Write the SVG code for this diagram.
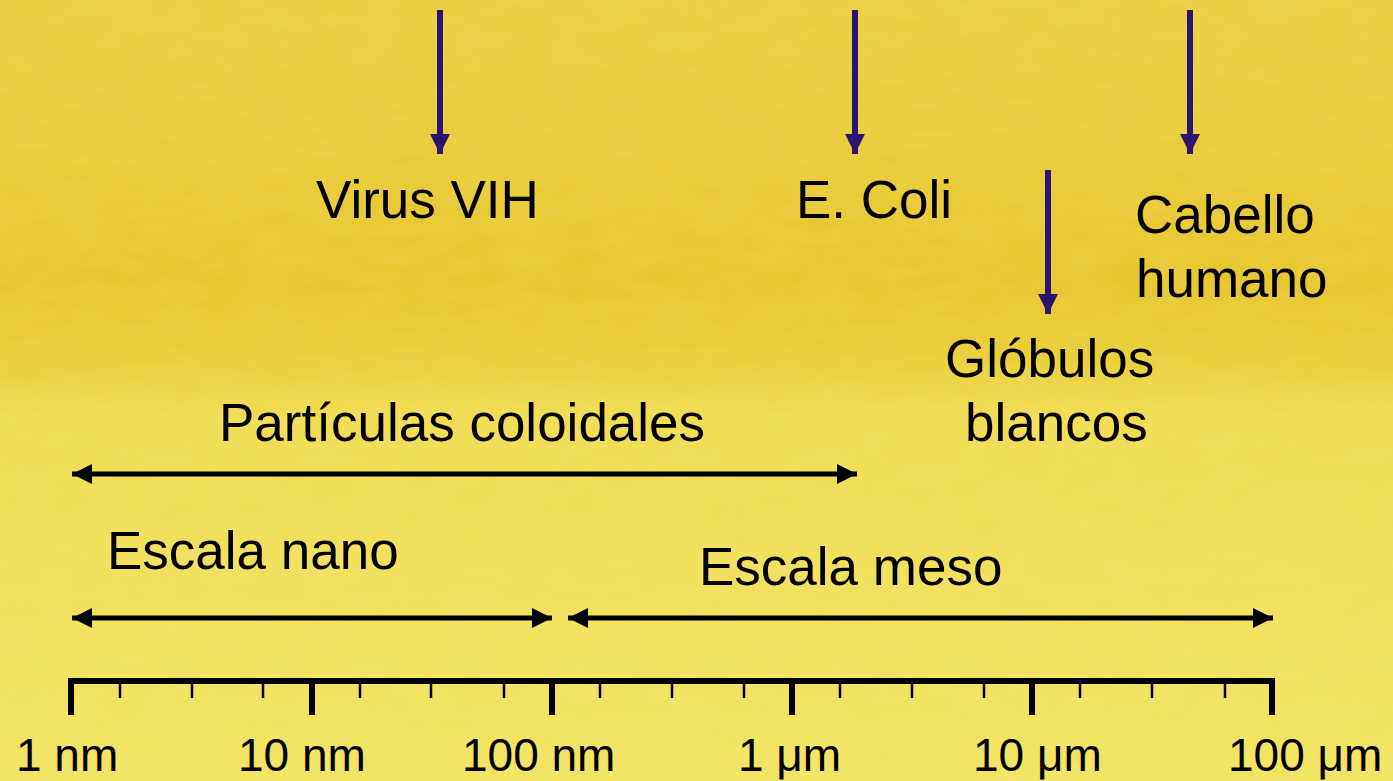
<svg xmlns="http://www.w3.org/2000/svg" width="1393" height="781" viewBox="0 0 1393 781">
<defs>
<linearGradient id="bg" x1="0" y1="0" x2="0" y2="1">
<stop offset="0" stop-color="#EBCF40"/>
<stop offset="0.2" stop-color="#E9CB38"/>
<stop offset="0.36" stop-color="#E6C52C"/>
<stop offset="0.45" stop-color="#E9CC36"/>
<stop offset="0.53" stop-color="#F0DC52"/>
<stop offset="0.75" stop-color="#F1E05C"/>
<stop offset="1" stop-color="#F2E462"/>
</linearGradient>
<filter id="tex" x="0" y="0" width="100%" height="100%">
<feTurbulence type="fractalNoise" baseFrequency="0.02 0.06" numOctaves="3" seed="4" result="n"/>
<feColorMatrix in="n" type="matrix" values="0 0 0 0 0.95  0 0 0 0 0.85  0 0 0 0 0.3  0 0 0 0.35 -0.05"/>
</filter>
<marker id="pa" viewBox="0 0 20 20" refX="20" refY="10" markerWidth="20" markerHeight="20" markerUnits="userSpaceOnUse" orient="auto">
<path d="M0,0 L20,10 L0,20 Z" fill="#2B1573"/>
</marker>
<marker id="ba" viewBox="0 0 20 20" refX="20" refY="10" markerWidth="20" markerHeight="20" markerUnits="userSpaceOnUse" orient="auto-start-reverse">
<path d="M0,0 L20,10 L0,20 Z" fill="#000"/>
</marker>
<style>
text{font-family:"Liberation Sans",Arial,sans-serif;fill:#000}
.lbl{font-size:53px}
.sc{font-size:46px}
.pl{stroke:#2B1573;stroke-width:6;fill:none}
.bl{stroke:#000;stroke-width:5;fill:none}
.maj{stroke:#000;stroke-width:6}
.min{stroke:#000;stroke-width:2.5}
</style>
</defs>
<rect width="1393" height="781" fill="url(#bg)"/>
<rect width="1393" height="781" filter="url(#tex)" opacity="0.6"/>

<g id="connectors">
<line class="pl" x1="440" y1="10" x2="440" y2="154" marker-end="url(#pa)"/>
<line class="pl" x1="855" y1="10" x2="855" y2="154" marker-end="url(#pa)"/>
<line class="pl" x1="1190" y1="10" x2="1190" y2="154" marker-end="url(#pa)"/>
<line class="pl" x1="1048" y1="170" x2="1048" y2="314" marker-end="url(#pa)"/>
<line class="bl" x1="72" y1="474" x2="857" y2="474" marker-start="url(#ba)" marker-end="url(#ba)"/>
<line class="bl" x1="72" y1="618" x2="552" y2="618" marker-start="url(#ba)" marker-end="url(#ba)"/>
<line class="bl" x1="568" y1="618" x2="1273" y2="618" marker-start="url(#ba)" marker-end="url(#ba)"/>
</g>

<g id="virus"><text class="lbl" x="316" y="218">Virus VIH</text></g>
<g id="ecoli"><text class="lbl" x="796" y="218">E. Coli</text></g>
<g id="cabello"><text class="lbl" x="1135" y="233">Cabello</text><text class="lbl" x="1136" y="297">humano</text></g>
<g id="globulos"><text class="lbl" x="945" y="377">Glóbulos</text><text class="lbl" x="965" y="441">blancos</text></g>
<g id="coloidales"><text class="lbl" x="219" y="441">Partículas coloidales</text></g>
<g id="nano"><text class="lbl" x="107" y="569">Escala nano</text></g>
<g id="meso"><text class="lbl" x="699" y="585">Escala meso</text></g>

<g id="scale">
<rect x="68" y="678" width="1207" height="6" fill="#000"/>
<line class="maj" x1="71" y1="678" x2="71" y2="715"/>
<line class="maj" x1="312" y1="678" x2="312" y2="715"/>
<line class="maj" x1="552" y1="678" x2="552" y2="715"/>
<line class="maj" x1="792" y1="678" x2="792" y2="715"/>
<line class="maj" x1="1032" y1="678" x2="1032" y2="715"/>
<line class="maj" x1="1272" y1="678" x2="1272" y2="715"/>
<g class="min">
<line x1="120" y1="682" x2="120" y2="698"/>
<line x1="192" y1="682" x2="192" y2="698"/>
<line x1="263" y1="682" x2="263" y2="698"/>
<line x1="360" y1="682" x2="360" y2="698"/>
<line x1="431" y1="682" x2="431" y2="698"/>
<line x1="504" y1="682" x2="504" y2="698"/>
<line x1="600" y1="682" x2="600" y2="698"/>
<line x1="672" y1="682" x2="672" y2="698"/>
<line x1="744" y1="682" x2="744" y2="698"/>
<line x1="840" y1="682" x2="840" y2="698"/>
<line x1="912" y1="682" x2="912" y2="698"/>
<line x1="984" y1="682" x2="984" y2="698"/>
<line x1="1080" y1="682" x2="1080" y2="698"/>
<line x1="1152" y1="682" x2="1152" y2="698"/>
<line x1="1225" y1="682" x2="1225" y2="698"/>
</g>
<text class="sc" x="16" y="771">1 nm</text>
<text class="sc" x="238" y="771">10 nm</text>
<text class="sc" x="462" y="771">100 nm</text>
<text class="sc" x="738" y="771">1 μm</text>
<text class="sc" x="973" y="771">10 μm</text>
<text class="sc" x="1228" y="771">100 μm</text>
</g>
</svg>
